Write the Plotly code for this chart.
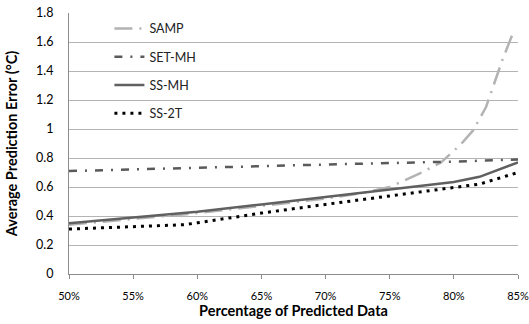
import plotly.graph_objects as go

# Data
samp_x = [50, 55, 60, 65, 70, 73, 75, 77.5, 79, 80.5, 81.5, 82.5, 83.8, 84.6]
samp_y = [0.34, 0.38, 0.42, 0.47, 0.52, 0.56, 0.60, 0.70, 0.77, 0.89, 0.99, 1.15, 1.48, 1.66]

setmh_x = [50, 60, 70, 80, 85]
setmh_y = [0.71, 0.735, 0.755, 0.775, 0.79]

ssmh_x = [50, 55, 60, 65, 70, 75, 80, 82, 85]
ssmh_y = [0.35, 0.39, 0.43, 0.48, 0.53, 0.58, 0.635, 0.67, 0.77]

ss2t_x = [50, 55, 59, 60, 65, 70, 75, 80, 82, 85]
ss2t_y = [0.31, 0.325, 0.34, 0.353, 0.42, 0.48, 0.54, 0.595, 0.62, 0.70]

x_ticks = [50, 55, 60, 65, 70, 75, 80, 85]
x_ticktext = ["50%", "55%", "60%", "65%", "70%", "75%", "80%", "85%"]
y_ticks = [0, 0.2, 0.4, 0.6, 0.8, 1.0, 1.2, 1.4, 1.6, 1.8]
y_ticktext = ["0", "0.2", "0.4", "0.6", "0.8", "1", "1.2", "1.4", "1.6", "1.8"]

FONT = "Lato"

fig = go.Figure()
fig.add_trace(go.Scatter(x=samp_x, y=samp_y, mode="lines", name="SAMP", legendgroup="a",
                         line=dict(color="#b3b3b3", width=2.5, dash="18px,7px,2px,7px")))
fig.add_trace(go.Scatter(x=setmh_x, y=setmh_y, mode="lines", name="SET-MH", legendgroup="b",
                         line=dict(color="#5a5a5a", width=2.5, dash="8px,8px,2px,8px")))
fig.add_trace(go.Scatter(x=ssmh_x, y=ssmh_y, mode="lines", name="SS-MH", legendgroup="c",
                         line=dict(color="#606060", width=2.5)))
fig.add_trace(go.Scatter(x=ss2t_x, y=ss2t_y, mode="lines", name="SS-2T", legendgroup="d",
                         line=dict(color="#000000", width=3, dash="3px,5px")))

fig.update_layout(
    width=529, height=324,
    margin=dict(l=69, r=11, t=13, b=50),
    paper_bgcolor="white", plot_bgcolor="white",
    font=dict(family=FONT, size=12, color="#000000"),
    legend=dict(x=0.09, y=0.9965, xanchor="left", yanchor="top",
                bgcolor="rgba(0,0,0,0)", tracegroupgap=9,
                font=dict(family=FONT, size=12.5, color="#222"), itemwidth=30),
    xaxis=dict(range=[50, 85], tickvals=x_ticks, ticktext=x_ticktext,
               showgrid=False, showline=True, linecolor="#8c8c8c", linewidth=1,
               ticks="outside", ticklen=4, tickcolor="#8c8c8c",
               ticklabelstandoff=8, zeroline=False, automargin=False,
               ticklabeloverflow="allow",
               tickfont=dict(size=11),
               title=dict(text="<b>Percentage of Predicted Data</b>", standoff=4,
                          font=dict(family=FONT, size=14.5))),
    yaxis=dict(range=[0, 1.8], tickvals=y_ticks, ticktext=y_ticktext,
               showgrid=True, gridcolor="#b4b4b4", gridwidth=1,
               showline=True, linecolor="#8c8c8c", linewidth=1, zeroline=False,
               ticks="", ticklabelstandoff=12, automargin=False,
               tickfont=dict(size=12.5),
               title=dict(text="<b>Average Prediction Error (°C)</b>", standoff=14,
                          font=dict(family=FONT, size=14.5))),
)

fig.write_html("out.html")
